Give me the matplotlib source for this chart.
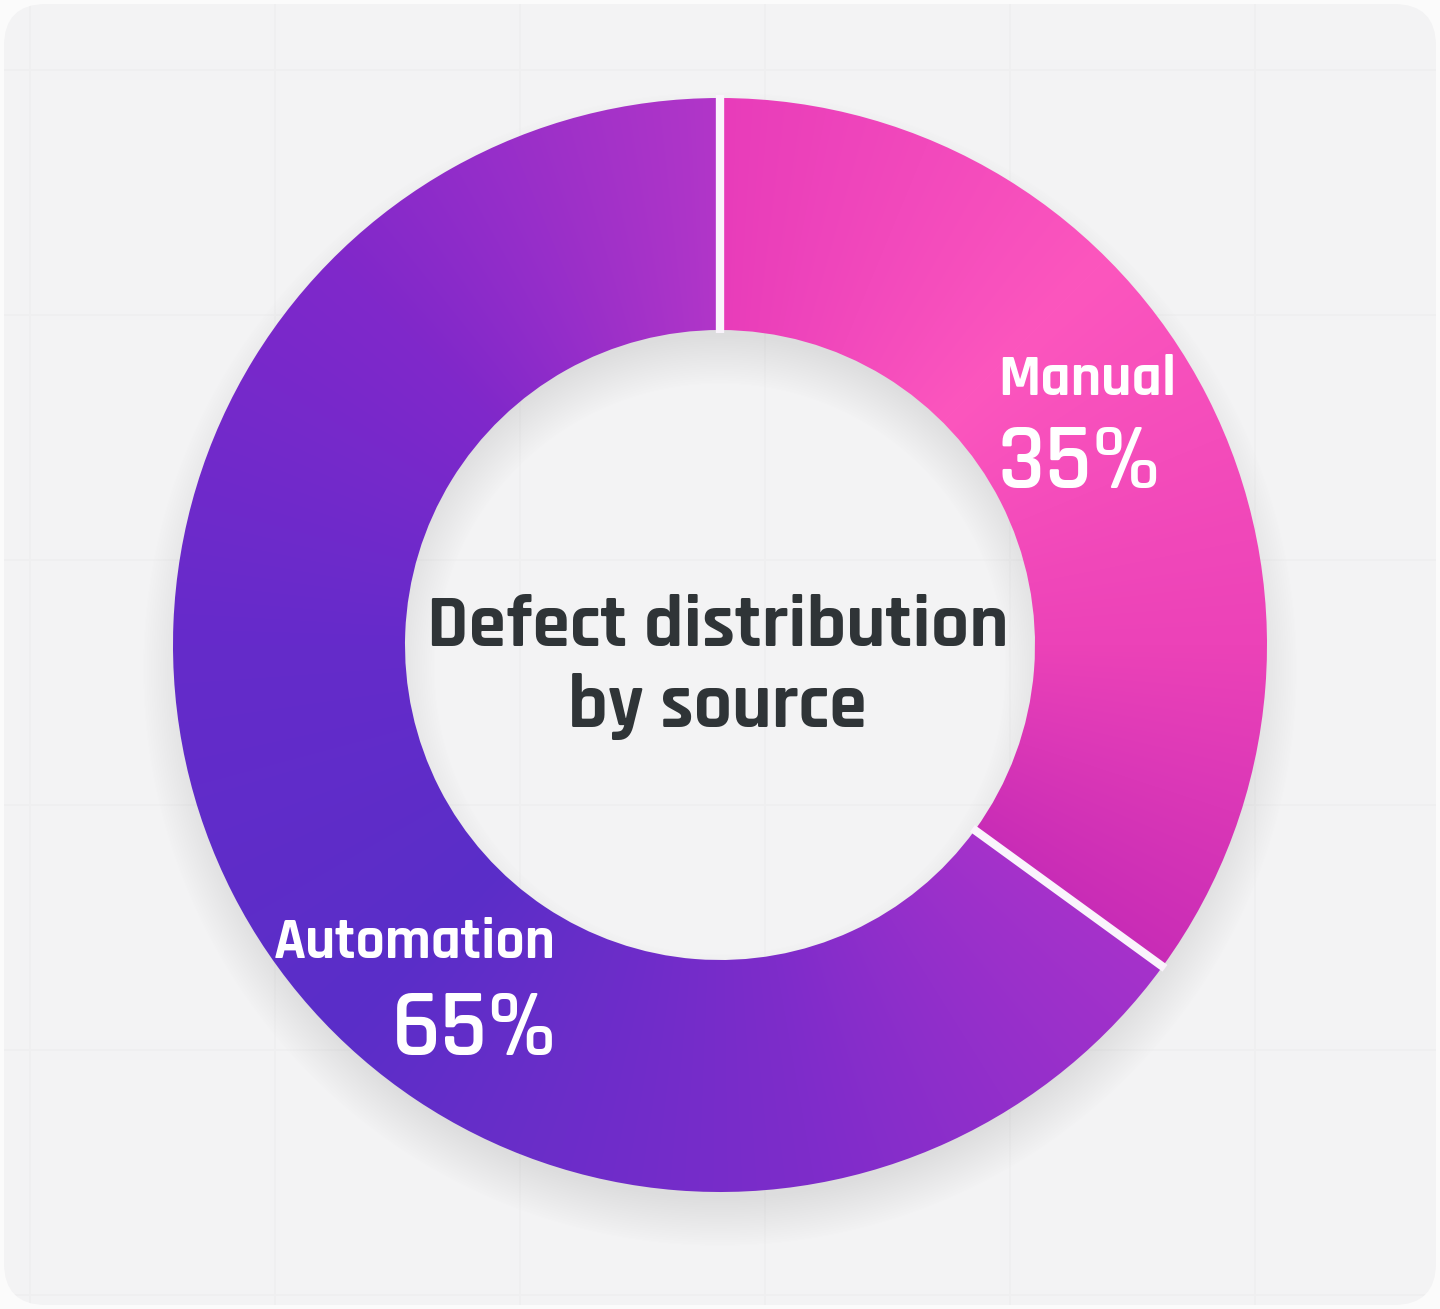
import numpy as np
import matplotlib.pyplot as plt
from matplotlib.patches import Wedge, FancyBboxPatch
from matplotlib.colors import to_rgb
from matplotlib.font_manager import FontProperties, fontManager
from matplotlib.textpath import TextPath

# data
labels = ['Manual', 'Automation']
shares = [35, 65]
title = 'Defect distribution\nby source'

# gradient stops (clock angle in degrees, colour) for each slice
manual_stops = [(0, '#E83CBA'), (45, '#FC56BE'), (90, '#EC42B8'), (126, '#C82CB6')]
auto_stops = [(126, '#A632CA'), (170, '#7E2CCA'), (225, '#5A2EC8'),
              (270, '#652BCA'), (315, '#8028CA'), (360, '#B236C8')]

# condensed font, first one that is installed
names = {f.name for f in fontManager.ttflist}
fam = 'DejaVu Sans'
for n in ['Rajdhani', 'Saira Semi Condensed', 'Saira Condensed', 'Barlow Semi Condensed',
          'Barlow Condensed', 'Roboto Condensed', 'Liberation Sans Narrow']:
    if n in names:
        fam = n
        break

W, H = 1440, 1309
fig = plt.figure(figsize=(W / 100, H / 100), dpi=100)
fig.patch.set_facecolor('#FBFBFB')
ax = fig.add_axes([0, 0, 1, 1])
ax.set_xlim(0, W)
ax.set_ylim(H, 0)
ax.axis('off')

# background card with faint grid
card = FancyBboxPatch((4, 4), W - 8, H - 8, boxstyle='round,pad=0,rounding_size=42',
                      fc='#F3F3F4', ec='none', zorder=0)
ax.add_patch(card)
for gx in np.arange(30, W, 245):
    ax.plot([gx, gx], [0, H], color='#EFEFF0', lw=1.2, zorder=0.5, clip_path=card)
for gy in np.arange(70, H, 245):
    ax.plot([0, W], [gy, gy], color='#EFEFF0', lw=1.2, zorder=0.5, clip_path=card)

cx, cy, R, r = 720, 645, 547, 315

yy, xx = np.mgrid[0:H, 0:W] + 0.5

# soft drop shadow of the ring
d = np.hypot(xx - cx, yy - (cy + 24))
w = 50.0
s_out = np.clip((R + 6 - d) / w + 0.5, 0, 1)
s_in = np.clip((d - r + 6) / w + 0.5, 0, 1)
shadow = np.zeros((H, W, 4))
shadow[..., :3] = 0.45
shadow[..., 3] = 0.17 * s_out * s_in
ax.imshow(shadow, extent=[0, W, H, 0], origin='upper', zorder=1, interpolation='bilinear')

# angular gradient image
ang = np.degrees(np.arctan2(xx - cx, -(yy - cy))) % 360


def grad(stops):
    a = [s[0] for s in stops]
    cols = np.array([to_rgb(s[1]) for s in stops])
    img = np.zeros((H, W, 3))
    for k in range(3):
        img[..., k] = np.interp(ang, a, cols[:, k])
    return img


bounds = np.concatenate([[0], np.cumsum(shares)]) / np.sum(shares) * 360
for i, stops in enumerate([manual_stops, auto_stops]):
    a0, a1 = bounds[i], bounds[i + 1]
    wedge = Wedge((cx, cy), R, a0 - 90, a1 - 90, width=R - r, fc='none', ec='none')
    ax.add_patch(wedge)
    im = ax.imshow(grad(stops), extent=[0, W, H, 0], origin='upper', zorder=2,
                   interpolation='bilinear')
    im.set_clip_path(wedge)

# white separators
for a in bounds[:-1]:
    t = np.radians(a)
    ax.plot([cx + (r - 3) * np.sin(t), cx + (R + 3) * np.sin(t)],
            [cy - (r - 3) * np.cos(t), cy - (R + 3) * np.cos(t)],
            color='#FAF4FC', lw=6, solid_capstyle='butt', zorder=3)

# labels: (text, x, baseline, ha, weight, colour, target width px, cap height px)
t1, t2 = title.split('\n')
items = [
    (labels[0], 998, 395, 'left', 'bold', 'white', 170, 48),
    (f'{shares[0]}%', 998, 488, 'left', 'semibold', 'white', 156, 70),
    (labels[1], 556, 958, 'right', 'bold', 'white', 268, 46),
    (f'{shares[1]}%', 558, 1055, 'right', 'semibold', 'white', 158, 70),
    (t1, 718, 646, 'center', 'bold', '#2F3437', 555, 58),
    (t2, 717, 727, 'center', 'bold', '#2F3437', 285, 58),
]
texts = []
fss = []
for s, x, y, ha, wt, col, tw, ch in items:
    fp = FontProperties(family=fam, weight=wt)
    cap = TextPath((0, 0), 'H', size=100, prop=fp).get_extents().height / 100
    fs_h = ch / cap * 72 / 100
    texts.append(ax.text(x, y, s, color=col, fontsize=fs_h, fontproperties=fp,
                         ha=ha, va='baseline', zorder=4))
    fss.append(fs_h)
fig.canvas.draw()
rend = fig.canvas.get_renderer()
for txt, it, fs in zip(texts, items, fss):
    bw = txt.get_window_extent(rend).width
    fs_w = fs * it[6] / bw
    txt.set_fontsize(min(fs, fs_w * 1.05))

fig.savefig('out.png', dpi=100, facecolor=fig.get_facecolor())
